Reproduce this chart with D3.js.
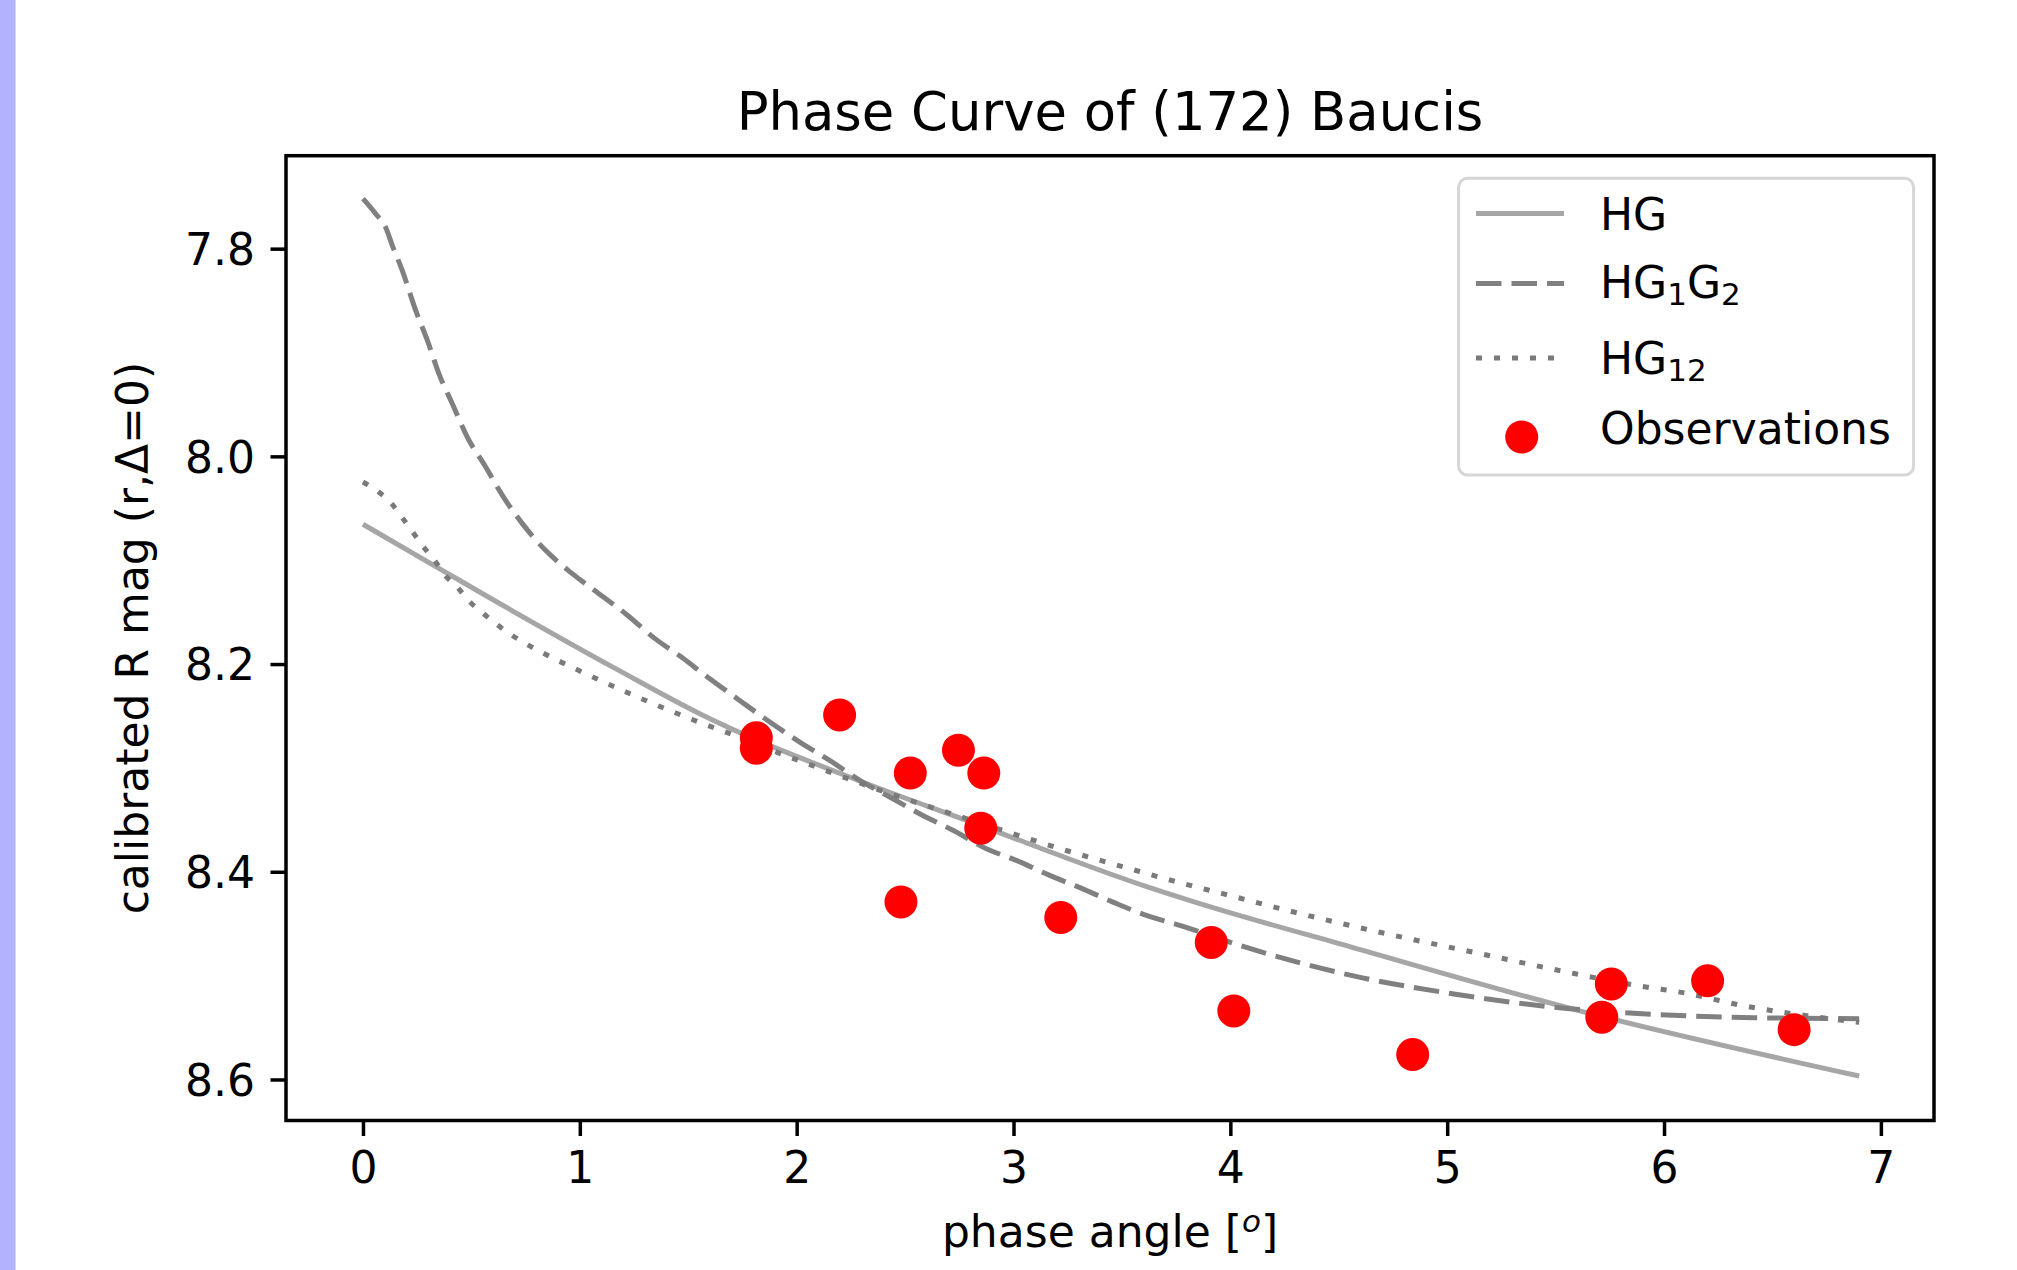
<!DOCTYPE html>
<html>
<head>
<meta charset="utf-8">
<script src="https://cdn.jsdelivr.net/npm/d3@7"></script>
<style>
  html, body { margin: 0; padding: 0; background: #fff; }
  svg text { font-family: "DejaVu Sans", sans-serif; fill: #000; }
</style>
</head>
<body>
<svg id="chart" width="2017" height="1270"></svg>
<script>
// values
var xTicks = [0, 1, 2, 3, 4, 5, 6, 7];
var yTicks = [7.8, 8.0, 8.2, 8.4, 8.6];

var obsPhase = [1.814, 1.814, 2.198, 2.524, 2.746, 2.863, 2.849, 2.481, 3.218, 3.912, 4.016, 4.841, 5.757, 5.713, 6.201, 6.600];
var obsMag   = [8.271, 8.281, 8.249, 8.305, 8.283, 8.305, 8.358, 8.429, 8.444, 8.468, 8.534, 8.576, 8.508, 8.540, 8.505, 8.552];

var hgPhase = [0, 0.366, 0.566, 1.18, 1.553, 2.321, 2.783, 3.628, 3.859, 4.558, 5.603, 6.9];
var hgMag   = [8.0654, 8.1098, 8.134, 8.2061, 8.2478, 8.315, 8.3505, 8.4153, 8.4307, 8.4725, 8.5335, 8.5967];

var hg1g2Phase = [0, 0.058, 0.104, 0.135, 0.181, 0.243, 0.297, 0.350, 0.412, 0.481, 0.566, 0.643, 0.735, 0.842, 0.965, 1.088, 1.211, 1.350, 1.473, 1.568, 1.737, 1.876, 2.014, 2.152, 2.291, 2.429, 2.567, 2.721, 2.875, 3.013, 3.167, 3.306, 3.459, 3.613, 3.767, 4.093, 4.558, 5.023, 5.487, 5.952, 6.417, 6.9];
var hg1g2Mag   = [7.7519, 7.7663, 7.7792, 7.7968, 7.8209, 7.8594, 7.8883, 7.9204, 7.9493, 7.9814, 8.0103, 8.0376, 8.0648, 8.0905, 8.1129, 8.1322, 8.1515, 8.176, 8.194, 8.2092, 8.2350, 8.2558, 8.2751, 8.2927, 8.3120, 8.3280, 8.3441, 8.3601, 8.3778, 8.3890, 8.4035, 8.4153, 8.4292, 8.4420, 8.4516, 8.4741, 8.4998, 8.5174, 8.5303, 8.5373, 8.5405, 8.5415];

var hg12Phase = [0, 0.073, 0.132, 0.181, 0.227, 0.276, 0.330, 0.376, 0.435, 0.486, 0.547, 0.612, 0.676, 0.745, 0.816, 0.888, 0.962, 1.568, 1.714, 1.937, 2.091, 2.475, 2.713, 3.021, 3.251, 3.493, 3.728, 3.965, 4.356, 4.755, 5.153, 5.552, 5.870, 6.114, 6.358, 6.591, 6.9];
var hg12Mag   = [8.0247, 8.0344, 8.0456, 8.0590, 8.0722, 8.0864, 8.1001, 8.1139, 8.1259, 8.1387, 8.1499, 8.1611, 8.1707, 8.1798, 8.1878, 8.1955, 8.2029, 8.2574, 8.2687, 8.2872, 8.2992, 8.3280, 8.3441, 8.3649, 8.3800, 8.3945, 8.4083, 8.4211, 8.4420, 8.4613, 8.4789, 8.4966, 8.5094, 8.5174, 8.5287, 8.5366, 8.5450];

// legend labels, [text, isSubscript]
var legendLabels = [
    [["HG", false]],
    [["HG", false], ["1", true], ["G", false], ["2", true]],
    [["HG", false], ["12", true]],
    [["Observations", false]]
];

var titleText = "Phase Curve of (172) Baucis";
var xLabelText = "phase angle [";
var xLabelSup = "o";
var yLabelText = "calibrated R mag (r,\u0394=0)";

// layout
var plot = { left: 286, right: 1934, top: 155.7, bottom: 1120.5 },
    fontSize = 44,
    tickLen = 15.5,
    tickPad = 15.5,
    spineWidth = 3.5,
    lineWidth = 5;

var svg = d3.select("#chart");

var x = d3.scaleLinear().domain([-0.355, 7.245]).range([plot.left, plot.right]),
    y = d3.scaleLinear().domain([7.7105, 8.6395]).range([plot.top, plot.bottom]);

svg.append("rect").attr("width", 2017).attr("height", 1270).attr("fill", "#fff");
svg.append("rect").attr("x", 0).attr("y", 0).attr("width", 15.5).attr("height", 1270).attr("fill", "#b2b2ff");

function curvePath(phase, mag) {
    var line = d3.line()
        .x(function(d) { return x(d[0]); })
        .y(function(d) { return y(d[1]); })
        .curve(d3.curveMonotoneX);
    return line(d3.zip(phase, mag));
}

var curves = [
    { phase: hgPhase, mag: hgMag, color: "#a6a6a6", dash: null },
    { phase: hg1g2Phase, mag: hg1g2Mag, color: "#808080", dash: "25.5,10" },
    { phase: hg12Phase, mag: hg12Mag, color: "#7a7a7a", dash: "6,12" }
];

curves.forEach(function(c) {
    svg.append("path")
        .attr("d", curvePath(c.phase, c.mag))
        .attr("fill", "none")
        .attr("stroke", c.color)
        .attr("stroke-width", lineWidth)
        .attr("stroke-dasharray", c.dash);
});

svg.append("g").selectAll("circle")
    .data(d3.zip(obsPhase, obsMag))
    .enter().append("circle")
    .attr("cx", function(d) { return x(d[0]); })
    .attr("cy", function(d) { return y(d[1]); })
    .attr("r", 16.5)
    .attr("fill", "#ff0000");

// axes
var xAxis = d3.axisBottom(x).tickValues(xTicks).tickFormat(d3.format("d"))
    .tickSize(tickLen).tickPadding(tickPad);
var yAxis = d3.axisLeft(y).tickValues(yTicks).tickFormat(d3.format(".1f"))
    .tickSize(tickLen).tickPadding(tickPad);

var gx = svg.append("g").attr("transform", "translate(0," + plot.bottom + ")").call(xAxis);
var gy = svg.append("g").attr("transform", "translate(" + plot.left + ",0)").call(yAxis);

[gx, gy].forEach(function(g) {
    g.select(".domain").remove();
    g.selectAll(".tick line").attr("stroke", "#000").attr("stroke-width", spineWidth);
    g.selectAll(".tick text")
        .attr("font-family", "DejaVu Sans")
        .attr("font-size", fontSize)
        .attr("fill", "#000");
});
gy.selectAll(".tick text").attr("dy", "0.36em");

svg.append("rect")
    .attr("x", plot.left).attr("y", plot.top)
    .attr("width", plot.right - plot.left).attr("height", plot.bottom - plot.top)
    .attr("fill", "none").attr("stroke", "#000").attr("stroke-width", spineWidth);

// title and axis labels
svg.append("text")
    .attr("x", (plot.left + plot.right) / 2).attr("y", 130)
    .attr("text-anchor", "middle").attr("font-size", 52.8)
    .text(titleText);

var xl = svg.append("text")
    .attr("x", (plot.left + plot.right) / 2).attr("y", 1247)
    .attr("text-anchor", "middle").attr("font-size", fontSize);
xl.append("tspan").text(xLabelText);
xl.append("tspan").attr("font-size", 31).attr("font-style", "italic").attr("dy", -15).text(xLabelSup);
xl.append("tspan").attr("dy", 15).text("]");

svg.append("text")
    .attr("transform", "translate(148," + ((plot.top + plot.bottom) / 2) + ") rotate(-90)")
    .attr("text-anchor", "middle").attr("font-size", fontSize)
    .text(yLabelText);

// legend
var leg = { x: 1458.6, y: 178.3, w: 455, h: 296.7, x1: 1476, x2: 1564, textX: 1600,
            rowY: [213.5, 283.5, 358, 437], baseY: [230, 298, 373.5, 444] };

svg.append("rect")
    .attr("x", leg.x).attr("y", leg.y).attr("width", leg.w).attr("height", leg.h)
    .attr("rx", 9).attr("ry", 9)
    .attr("fill", "#fff").attr("fill-opacity", 0.8)
    .attr("stroke", "#d6d6d6").attr("stroke-width", 3);

curves.forEach(function(c, i) {
    svg.append("line")
        .attr("x1", leg.x1).attr("x2", leg.x2)
        .attr("y1", leg.rowY[i]).attr("y2", leg.rowY[i])
        .attr("stroke", c.color).attr("stroke-width", lineWidth)
        .attr("stroke-dasharray", c.dash);
});
svg.append("circle")
    .attr("cx", (leg.x1 + leg.x2) / 2 + 1.7).attr("cy", leg.rowY[3]).attr("r", 16.5)
    .attr("fill", "#ff0000");

legendLabels.forEach(function(parts, i) {
    var t = svg.append("text")
        .attr("x", leg.textX).attr("y", leg.baseY[i])
        .attr("font-size", fontSize);
    var shifted = false;
    parts.forEach(function(p) {
        var ts = t.append("tspan").text(p[0]);
        if (p[1]) {
            ts.attr("font-size", 31).attr("dy", 7);
            shifted = true;
        } else if (shifted) {
            ts.attr("dy", -7);
            shifted = false;
        }
    });
});
</script>
</body>
</html>
